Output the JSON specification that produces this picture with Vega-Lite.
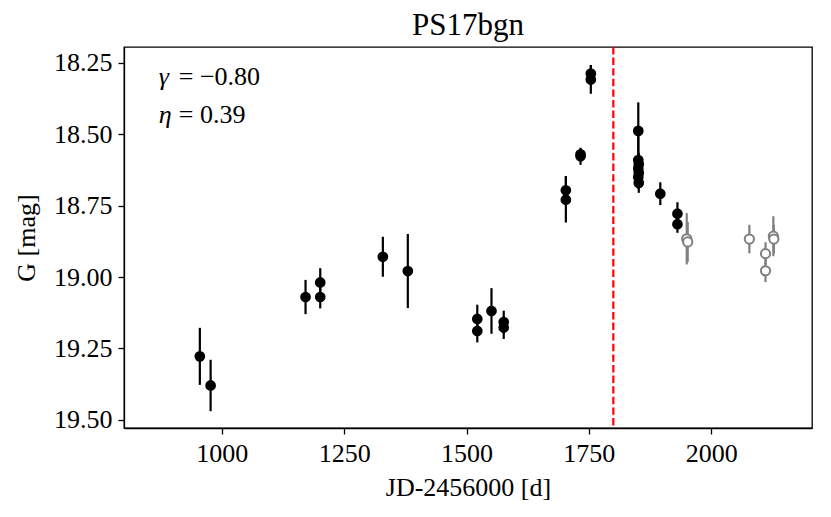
{
  "$schema": "https://vega.github.io/schema/vega-lite/v6.json",
  "width": 688,
  "height": 381,
  "autosize": {"type": "none"},
  "padding": {"left": 124, "top": 47, "right": 19, "bottom": 89},
  "background": "white",
  "title": {
    "text": "PS17bgn",
    "font": "Liberation Serif",
    "fontSize": 31,
    "fontWeight": "normal",
    "color": "black",
    "offset": 4
  },
  "datasets": {
    "lc": [
      {"jd": 955, "mag": 19.278, "err": 0.10, "group": "fit"},
      {"jd": 977, "mag": 19.380, "err": 0.09, "group": "fit"},
      {"jd": 1171, "mag": 19.070, "err": 0.06, "group": "fit"},
      {"jd": 1201, "mag": 19.019, "err": 0.05, "group": "fit"},
      {"jd": 1201, "mag": 19.070, "err": 0.04, "group": "fit"},
      {"jd": 1329, "mag": 18.929, "err": 0.07, "group": "fit"},
      {"jd": 1380, "mag": 18.979, "err": 0.13, "group": "fit"},
      {"jd": 1522, "mag": 19.147, "err": 0.05, "group": "fit"},
      {"jd": 1522, "mag": 19.189, "err": 0.04, "group": "fit"},
      {"jd": 1551, "mag": 19.119, "err": 0.08, "group": "fit"},
      {"jd": 1576, "mag": 19.158, "err": 0.04, "group": "fit"},
      {"jd": 1576, "mag": 19.177, "err": 0.04, "group": "fit"},
      {"jd": 1703, "mag": 18.696, "err": 0.05, "group": "fit"},
      {"jd": 1703, "mag": 18.729, "err": 0.08, "group": "fit"},
      {"jd": 1733, "mag": 18.570, "err": 0.02, "group": "fit"},
      {"jd": 1733, "mag": 18.577, "err": 0.03, "group": "fit"},
      {"jd": 1754, "mag": 18.287, "err": 0.03, "group": "fit"},
      {"jd": 1754, "mag": 18.308, "err": 0.05, "group": "fit"},
      {"jd": 1851, "mag": 18.488, "err": 0.10, "group": "fit"},
      {"jd": 1851, "mag": 18.590, "err": 0.10, "group": "fit"},
      {"jd": 1852, "mag": 18.605, "err": 0.04, "group": "fit"},
      {"jd": 1851, "mag": 18.620, "err": 0.04, "group": "fit"},
      {"jd": 1852, "mag": 18.635, "err": 0.04, "group": "fit"},
      {"jd": 1851, "mag": 18.650, "err": 0.04, "group": "fit"},
      {"jd": 1852, "mag": 18.670, "err": 0.035, "group": "fit"},
      {"jd": 1896, "mag": 18.708, "err": 0.04, "group": "fit"},
      {"jd": 1931, "mag": 18.778, "err": 0.04, "group": "fit"},
      {"jd": 1931, "mag": 18.815, "err": 0.03, "group": "fit"},
      {"jd": 1950, "mag": 18.866, "err": 0.09, "group": "late"},
      {"jd": 1952, "mag": 18.877, "err": 0.07, "group": "late"},
      {"jd": 2078, "mag": 18.867, "err": 0.05, "group": "late"},
      {"jd": 2111, "mag": 18.918, "err": 0.04, "group": "late"},
      {"jd": 2111, "mag": 18.978, "err": 0.04, "group": "late"},
      {"jd": 2127, "mag": 18.857, "err": 0.07, "group": "late"},
      {"jd": 2128, "mag": 18.867, "err": 0.05, "group": "late"}
    ],
    "stats": [
      {"jd": 871, "mag": 18.328, "sym": "γ", "rest": "= −0.80"},
      {"jd": 871, "mag": 18.461, "sym": "η", "rest": "= 0.39"}
    ],
    "peak": [{"jd": 1800}]
  },
  "encoding": {
    "x": {
      "field": "jd",
      "type": "quantitative",
      "title": "JD-2456000 [d]",
      "scale": {"domain": [800, 2206], "nice": false, "zero": false},
      "axis": {"values": [1000, 1250, 1500, 1750, 2000], "format": "d"}
    },
    "y": {
      "field": "mag",
      "type": "quantitative",
      "title": "G [mag]",
      "scale": {"domain": [18.194, 19.529], "reverse": true, "nice": false, "zero": false},
      "axis": {"values": [18.25, 18.5, 18.75, 19.0, 19.25, 19.5], "format": ".2f"}
    }
  },
  "layer": [
    {
      "data": {"name": "peak"},
      "mark": {"type": "rule", "color": "#ff0000", "strokeWidth": 2.2, "strokeDash": [7.4, 3.2]},
      "encoding": {"y": null}
    },
    {
      "data": {"name": "lc"},
      "mark": {"type": "errorbar", "thickness": 2.2},
      "encoding": {
        "yError": {"field": "err"},
        "color": {
          "field": "group",
          "type": "nominal",
          "scale": {"domain": ["fit", "late"], "range": ["black", "#808080"]},
          "legend": null
        }
      }
    },
    {
      "data": {"name": "lc"},
      "transform": [{"filter": "datum.group == 'fit'"}],
      "mark": {"type": "circle", "size": 115, "opacity": 1, "color": "black"}
    },
    {
      "data": {"name": "lc"},
      "transform": [{"filter": "datum.group == 'late'"}],
      "mark": {"type": "point", "shape": "circle", "size": 85, "filled": false, "fill": "white", "fillOpacity": 1, "stroke": "#808080", "strokeWidth": 2, "opacity": 1}
    },
    {
      "data": {"name": "stats"},
      "mark": {"type": "text", "font": "Liberation Serif", "fontSize": 26, "fontStyle": "italic", "align": "left", "baseline": "alphabetic", "color": "black"},
      "encoding": {"text": {"field": "sym"}}
    },
    {
      "data": {"name": "stats"},
      "mark": {"type": "text", "font": "Liberation Serif", "fontSize": 26, "align": "left", "baseline": "alphabetic", "dx": 20, "color": "black"},
      "encoding": {"text": {"field": "rest"}}
    }
  ],
  "config": {
    "view": {"stroke": "black", "strokeWidth": 1.3},
    "font": "Liberation Serif",
    "axis": {
      "grid": false,
      "domainColor": "black",
      "domainWidth": 1.3,
      "tickColor": "black",
      "tickWidth": 1.3,
      "tickSize": 6,
      "labelFont": "Liberation Serif",
      "labelFontSize": 26,
      "labelColor": "black",
      "labelPadding": 6,
      "titleFont": "Liberation Serif",
      "titleFontSize": 26,
      "titleFontWeight": "normal",
      "titleColor": "black"
    },
    "axisX": {"titlePadding": 8},
    "axisY": {"titlePadding": 14}
  }
}
